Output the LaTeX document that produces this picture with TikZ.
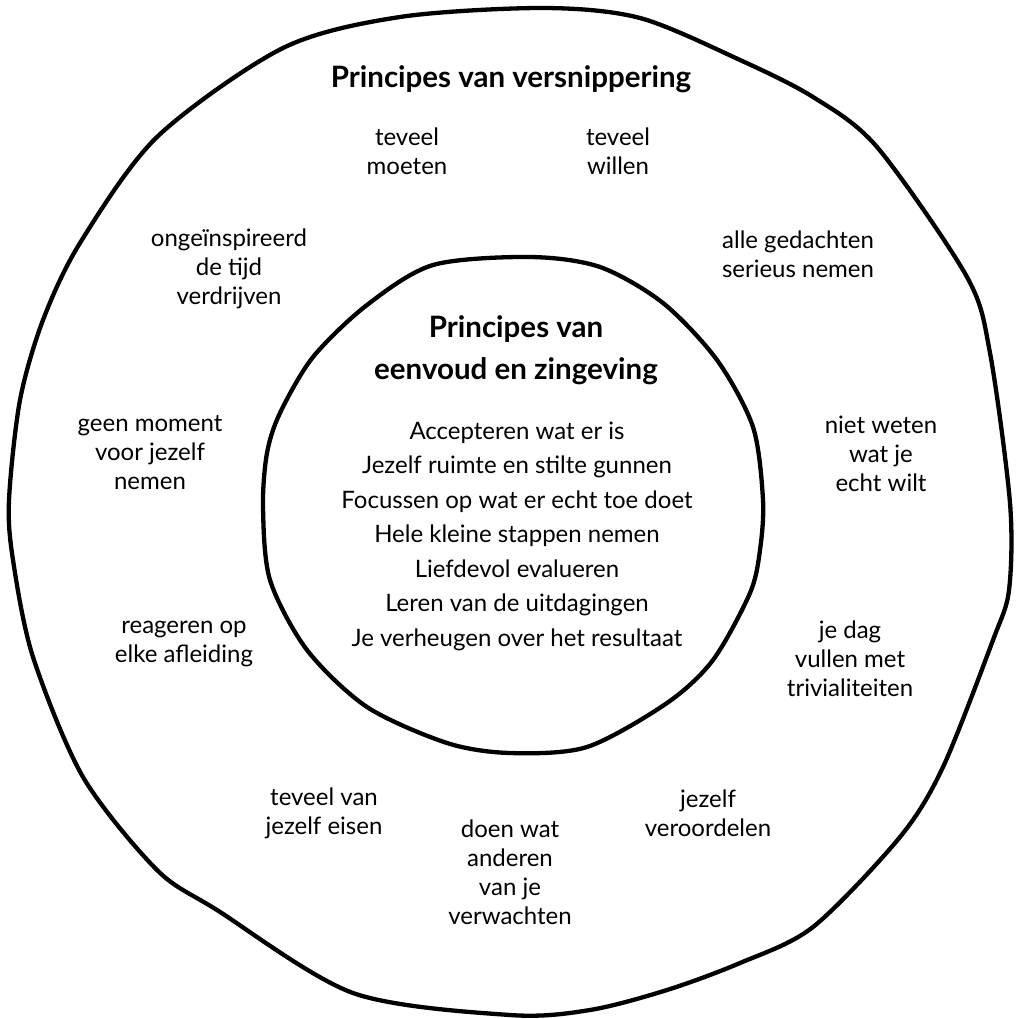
\documentclass[tikz,border=0pt]{standalone}
\usepackage{fontspec}
\setmainfont{Lato}
\usetikzlibrary{positioning}

\tikzset{
  ring/.style={line width=4.3pt, line join=round},
  lbl/.style={align=center, font=\fontsize{24}{29}\selectfont},
  ttl/.style={align=center, font=\fontsize{29.5}{42}\selectfont\bfseries},
  lst/.style={align=center, font=\fontsize{24}{34.5}\selectfont},
}

\begin{document}
\begin{tikzpicture}[x=1pt,y=-1pt]
    \useasboundingbox (0,0) rectangle (1017,1019);
    \draw[ring] plot[smooth cycle, tension=0.5] coordinates {
      (543,8) (640,18) (740,60) (813,97) (877,147) (967,277) (990,353)
      (1010,503) (1009,590) (993,640) (943,767) (900,837) (813,927)
      (740,963) (667,990) (590,1010) (510,1015) (353,993) (217,910)
      (157,870) (83,777) (33,657) (13,560) (9,500) (20,400) (43,320)
      (80,243) (157,137) (283,48) (400,17)};
    \draw[ring] plot[smooth cycle, tension=0.5] coordinates {
      (530,257) (600,267) (663,303) (717,360) (753,427) (763,500)
      (760,550) (750,593) (713,660) (667,703) (587,747) (510,753)
      (447,743) (367,707) (307,650) (270,580) (263,507) (267,453)
      (280,413) (313,357) (367,305) (433,265)};

    \node[ttl] (outer) at (511,79) {Principes van versnippering};
    \node[lbl] (moeten) at (407,151) {teveel\\moeten};
    \node[lbl] (willen) at (618,151) {teveel\\willen};
    \node[lbl] (tijd) at (229,269) {ongeïnspireerd\\de tijd\\verdrijven};
    \node[lbl] (gedachten) at (798,254) {alle gedachten\\serieus nemen};
    \node[lbl] (moment) at (150,453) {geen moment\\voor jezelf\\nemen};
    \node[lbl] (weten) at (881,454) {niet weten\\wat je\\echt wilt};
    \node[lbl] (afleiding) at (184,644) {reageren op\\elke afleiding};
    \node[lbl] (dag) at (850,659) {je dag\\vullen met\\trivialiteiten};
    \node[lbl] (eisen) at (324,813) {teveel van\\jezelf eisen};
    \node[lbl] (anderen) at (510,872) {doen wat\\anderen\\van je\\verwachten};
    \node[lbl] (oordelen) at (708,813) {jezelf\\veroordelen};

    \node[ttl] (inner) at (516,350) {Principes van\\eenvoud en zingeving};
    \node[lst] (list) at (517,536) {Accepteren wat er is\\Jezelf ruimte en stilte gunnen\\Focussen op wat er echt toe doet\\Hele kleine stappen nemen\\Liefdevol evalueren\\Leren van de uitdagingen\\Je verheugen over het resultaat};
\end{tikzpicture}
\end{document}
